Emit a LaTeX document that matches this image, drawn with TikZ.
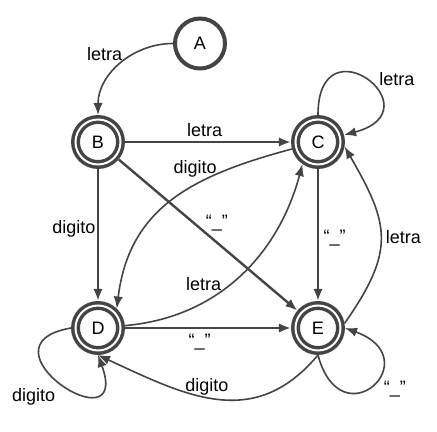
\documentclass[tikz,border=0pt]{standalone}
\usepackage{fontspec}
\setmainfont{Liberation Sans}
\usetikzlibrary{arrows.meta}
\definecolor{linea}{HTML}{444444}

\begin{document}
\begin{tikzpicture}[x=0.75pt, y=0.75pt, >={Latex[length=9pt,width=7pt]},
    font=\fontsize{13.5}{16}\selectfont,
    estado/.style={circle, draw=linea, line width=3pt, minimum size=37.5pt, inner sep=0pt},
    final/.style={estado, double, line width=2.6pt, double distance=1.5pt, minimum size=33.75pt, outer sep=3.4pt},
    recta/.style={->, draw=linea, line width=1.8pt},
    curva/.style={->, draw=linea, line width=1.2pt}]
\useasboundingbox (0,0) rectangle (437,432);

\node[estado] (A) at (200,388.5) {A};
\node[final] (B) at (98,290) {B};
\node[final] (C) at (318,290) {C};
\node[final] (D) at (98,104) {D};
\node[final] (E) at (318,104) {E};

\draw[curva] (A) to[out=180, in=90] node[pos=.35, left=5pt]{letra} (B);
\draw[recta] (B) -- (C) node[pos=.48, above]{letra};
\draw[recta] (B) -- (D) node[pos=.45, left, inner sep=1pt]{digito};
\draw[recta] (B) -- (E) node[pos=.55, above=4pt]{“\_”};
\draw[recta] (C) -- (E) node[pos=.52, right]{“\_”};
\draw[recta] (D) -- (E) node[pos=.45, below]{“\_”};

\draw[curva] (C) to[out=195, in=83, looseness=1.1] node[pos=.28, anchor=south east, inner sep=0pt, yshift=-3pt]{digito} (D.46);
\draw[curva] (D) to[out=5, in=255] node[pos=.45, left=3pt]{letra} (C.235);
\draw[curva] (E.10) to[out=55, in=-60, looseness=1.3] node[midway, right]{letra} (C.-10);
\draw[curva] (E.south) to[out=-130, in=-25, looseness=1.15] node[pos=.55, above, inner sep=1pt]{digito} (D.south);

\draw[curva] (C) to[out=90, in=15, looseness=7.5] node[pos=.5, right=6pt]{letra} (C);
\draw[curva] (D.west) to[out=190, in=-70, looseness=6.7] node[pos=.5, below left]{digito} (D.south);
\draw[curva] (E.south) to[out=-75, in=-20, looseness=6] node[pos=.6, below right]{“\_”} (E.east);
\end{tikzpicture}
\end{document}
